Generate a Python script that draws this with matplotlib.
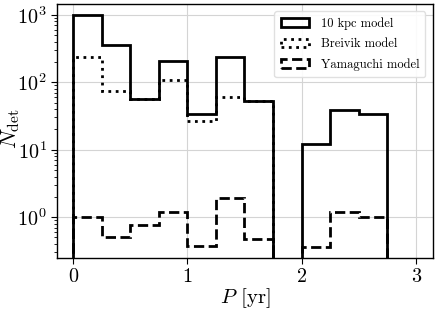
import numpy as np
import matplotlib
matplotlib.use("Agg")
import matplotlib.pyplot as plt

plt.rcParams['font.family'] = 'serif'
plt.rcParams['font.serif'] = ['cmr10', 'DejaVu Serif']
plt.rcParams['mathtext.fontset'] = 'cm'
plt.rcParams['axes.formatter.use_mathtext'] = True
plt.rcParams['axes.unicode_minus'] = False

bin_edges = [0.0, 0.25, 0.5, 0.75, 1.0, 1.25, 1.5, 1.75, 2.0, 2.25, 2.5, 2.75]
kpc10 = [1000, 360, 57, 203, 34, 236, 52, 0, 12, 39, 34]
breivik = [236, 75, 57, 109, 27, 61, 52, 0, 0, 0, 0]
yamaguchi = [1.02, 0.50, 0.77, 1.2, 0.37, 1.93, 0.47, 0, 0.36, 1.19, 1.0]
labels = ['10 kpc model', 'Breivik model', 'Yamaguchi model']

edges = np.array(bin_edges)
centers = 0.5 * (edges[:-1] + edges[1:])

fig = plt.figure(figsize=(4.36, 3.11), dpi=100)
ax = fig.add_axes([0.131, 0.170, 0.862, 0.818])

ax.hist(centers, bins=edges, weights=kpc10, histtype='step', log=True,
        color='black', lw=2.0, ls='-', label=labels[0], zorder=3)
ax.hist(centers, bins=edges, weights=breivik, histtype='step', log=True,
        color='black', lw=2.0, ls=':', label=labels[1], zorder=2)
ax.hist(centers, bins=edges, weights=yamaguchi, histtype='step', log=True,
        color='black', lw=2.0, ls='--', label=labels[2], zorder=2)

ax.set_yscale('log', nonpositive='clip')
ax.set_xlim(-0.14, 3.15)
ax.set_ylim(0.247, 1456)
ax.set_xticks([0, 1, 2, 3])
ax.set_xticklabels(['0', '1', '2', '3'])
ax.grid(True, which='major', color='#d4d4d4', lw=0.8, zorder=0)
ax.set_axisbelow(True)
ax.tick_params(axis='both', which='major', labelsize=14.5, length=4, direction='out')
ax.tick_params(axis='y', which='minor', length=2.5, direction='out')
ax.set_xlabel(r'$P$ [yr]', fontsize=15)
ax.set_ylabel(r'$N_{\rm det}$', fontsize=16)
ax.xaxis.set_label_coords(0.5, -0.112)
ax.yaxis.set_label_coords(-0.094, 0.51)
for s in ax.spines.values():
    s.set_linewidth(1.0)

ax.legend(loc='upper right', fontsize=9, frameon=True, framealpha=0.9,
          edgecolor='#dddddd', fancybox=True, handlelength=2.3,
          handletextpad=0.9, borderpad=0.5, labelspacing=0.65,
          borderaxespad=0.6)

fig.savefig('out.png', dpi=100)
